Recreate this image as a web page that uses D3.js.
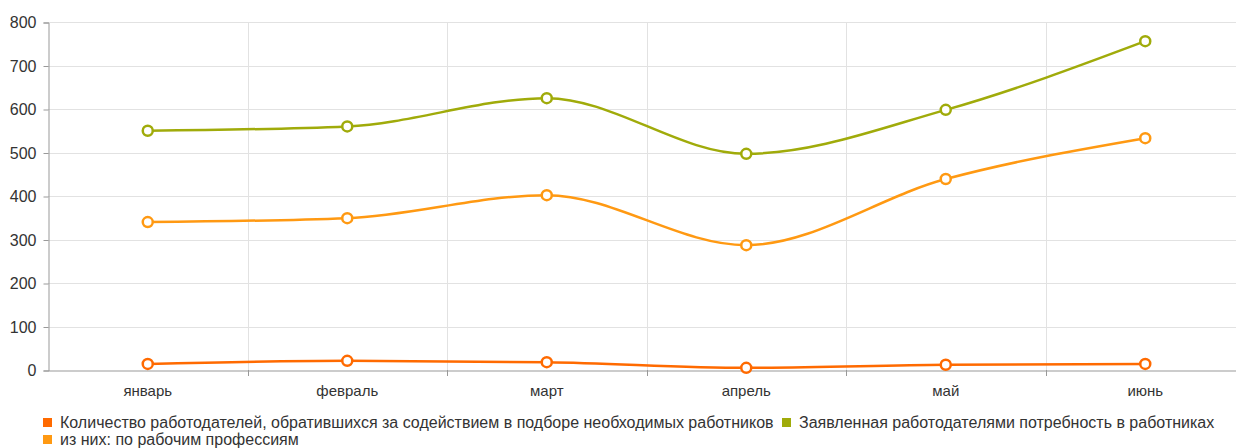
<!DOCTYPE html>
<html>
<head>
<meta charset="utf-8">
<script src="https://cdn.jsdelivr.net/npm/d3@7"></script>
<style>
  body { margin: 0; background: #fff; }
  svg { font-family: "Liberation Sans", Arial, sans-serif; }
  .yaxis .tick text { fill: #333; font-size: 16px; }
  .xaxis .tick text { fill: #333; font-size: 15px; }
  .legend text { fill: #333; font-size: 16px; }
</style>
</head>
<body>
<div class="canvas"></div>
<script>
// месяцы
var months = ["январь", "февраль", "март", "апрель", "май", "июнь"];
// ряды
var seriesNames = [
  "Количество работодателей, обратившихся за содействием в подборе необходимых работников",
  "из них: по рабочим профессиям",
  "Заявленная работодателями потребность в работниках"
];
var employers = [14, 21, 18, 5, 12, 14];
var workerProf = [340, 349, 402, 287, 439, 533];
var demand = [550, 560, 625, 497, 598, 756];
var yTicks = [0, 100, 200, 300, 400, 500, 600, 700, 800];

var colors = ["#ff6a00", "#ff9912", "#a0ab0a"];
var allSeries = [employers, workerProf, demand];

var width = 1236, height = 448;
var pLeft = 48, pRight = 1245, pTop = 22, pBottom = 370;

var svg = d3.select(".canvas").append("svg")
  .attr("width", width)
  .attr("height", height);

var x = d3.scaleBand().domain(months).range([pLeft, pRight]);
var y = d3.scaleLinear().domain([0, 800]).range([pBottom, pTop]);

// сетка горизонтальная
svg.append("g")
  .selectAll("line")
  .data(yTicks.slice(1))
  .enter().append("line")
    .attr("x1", pLeft).attr("x2", pRight)
    .attr("y1", function(d){ return Math.round(y(d)) + 0.5; })
    .attr("y2", function(d){ return Math.round(y(d)) + 0.5; })
    .attr("stroke", "#e2e2e2");

// сетка вертикальная
svg.append("g")
  .selectAll("line")
  .data(months.slice(1))
  .enter().append("line")
    .attr("x1", function(d){ return Math.round(x(d)) + 0.5; })
    .attr("x2", function(d){ return Math.round(x(d)) + 0.5; })
    .attr("y1", pTop).attr("y2", pBottom)
    .attr("stroke", "#e2e2e2");

// ось Y
var yAxis = svg.append("g")
  .attr("class", "yaxis")
  .attr("transform", "translate(" + (pLeft + 0.5) + ",0.5)")
  .call(d3.axisLeft(y).tickValues(yTicks).tickSize(5).tickPadding(7));
yAxis.select(".domain").attr("stroke", "#999");
yAxis.selectAll(".tick line").attr("stroke", "#999");

// ось X
var xAxis = svg.append("g")
  .attr("class", "xaxis")
  .attr("transform", "translate(0," + (pBottom + 0.5) + ")")
  .call(d3.axisBottom(x).tickSize(0).tickPadding(15));
xAxis.select(".domain").attr("stroke", "#999");
xAxis.selectAll(".tick line").remove();
svg.append("g")
  .selectAll("line")
  .data(months.slice(1))
  .enter().append("line")
    .attr("x1", function(d){ return Math.round(x(d)) + 0.5; })
    .attr("x2", function(d){ return Math.round(x(d)) + 0.5; })
    .attr("y1", pBottom).attr("y2", pBottom + 6)
    .attr("stroke", "#999");

var cx = function(i){ return x(months[i]) + x.bandwidth() / 2; };

var line = d3.line()
  .x(function(d, i){ return cx(i); })
  .y(function(d){ return y(d); })
  .curve(d3.curveMonotoneX);

// линии
[2, 1, 0].forEach(function(k){
  svg.append("path")
    .datum(allSeries[k])
    .attr("fill", "none")
    .attr("stroke", colors[k])
    .attr("stroke-width", 2.5)
    .attr("d", line);
  svg.append("g")
    .selectAll("circle")
    .data(allSeries[k])
    .enter().append("circle")
      .attr("cx", function(d, i){ return cx(i); })
      .attr("cy", function(d){ return y(d); })
      .attr("r", 5)
      .attr("fill", "#fff")
      .attr("stroke", colors[k])
      .attr("stroke-width", 2.5);
});

// легенда
var legendItems = [
  {name: seriesNames[0], color: colors[0], x: 43, y: 418},
  {name: seriesNames[2], color: colors[2], x: 782, y: 418},
  {name: seriesNames[1], color: colors[1], x: 43, y: 435}
];
var lg = svg.append("g").attr("class", "legend")
  .selectAll("g")
  .data(legendItems)
  .enter().append("g")
    .attr("transform", function(d){ return "translate(" + d.x + "," + d.y + ")"; });
lg.append("rect")
  .attr("width", 9).attr("height", 9)
  .attr("fill", function(d){ return d.color; });
lg.append("text")
  .attr("x", 17).attr("y", 10)
  .text(function(d){ return d.name; });
</script>
</body>
</html>
